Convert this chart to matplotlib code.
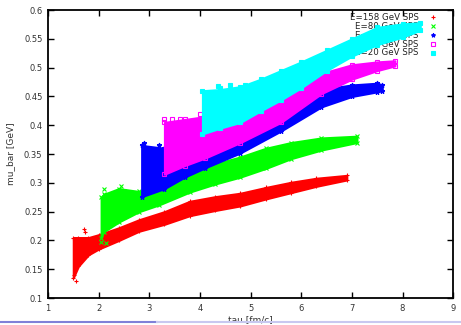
import matplotlib.pyplot as plt
from matplotlib.lines import Line2D

# band edges (lower / upper mu_bar) for each beam energy
tau_158 = [1.5, 1.6, 1.8, 2.0, 2.4, 2.8, 3.3, 3.8, 4.3, 4.8, 5.3, 5.8, 6.3, 6.9]
lo_158 = [0.135, 0.155, 0.175, 0.185, 0.200, 0.216, 0.228, 0.243, 0.252, 0.260, 0.272, 0.283, 0.294, 0.305]
hi_158 = [0.205, 0.205, 0.205, 0.210, 0.222, 0.236, 0.250, 0.268, 0.276, 0.282, 0.292, 0.301, 0.308, 0.313]

tau_80 = [2.05, 2.1, 2.4, 2.8, 3.2, 3.8, 4.3, 4.8, 5.3, 5.8, 6.4, 7.1]
lo_80 = [0.205, 0.215, 0.232, 0.250, 0.262, 0.284, 0.298, 0.310, 0.325, 0.342, 0.357, 0.370]
hi_80 = [0.275, 0.280, 0.290, 0.285, 0.292, 0.322, 0.333, 0.345, 0.360, 0.370, 0.378, 0.381]

tau_40 = [2.85, 3.3, 3.7, 4.1, 4.8, 5.6, 6.4, 7.0, 7.5, 7.6]
lo_40 = [0.276, 0.290, 0.310, 0.326, 0.352, 0.390, 0.432, 0.450, 0.458, 0.460]
hi_40 = [0.365, 0.360, 0.370, 0.385, 0.405, 0.430, 0.462, 0.470, 0.473, 0.470]

tau_30 = [3.3, 3.7, 4.1, 4.8, 5.6, 6.4, 7.0, 7.5, 7.85]
lo_30 = [0.315, 0.330, 0.343, 0.370, 0.405, 0.455, 0.480, 0.495, 0.503]
hi_30 = [0.405, 0.410, 0.415, 0.430, 0.450, 0.490, 0.505, 0.510, 0.512]

tau_20 = [4.05, 4.4, 4.8, 5.2, 5.6, 6.0, 6.5, 7.0, 7.5, 8.0, 8.35]
lo_20 = [0.385, 0.395, 0.405, 0.425, 0.444, 0.465, 0.495, 0.520, 0.540, 0.553, 0.565]
hi_20 = [0.460, 0.462, 0.467, 0.480, 0.495, 0.510, 0.530, 0.550, 0.570, 0.576, 0.578]

# scattered points sticking out of the bands
out_158_x = [1.72, 1.73, 1.52, 1.55]
out_158_y = [0.220, 0.214, 0.140, 0.130]
out_80_x = [2.1, 2.45, 2.5, 2.9, 2.05, 2.15]
out_80_y = [0.290, 0.295, 0.285, 0.285, 0.197, 0.195]
out_40_x = [2.9, 3.2, 3.0]
out_40_y = [0.370, 0.365, 0.355]
out_30_x = [3.3, 3.45, 3.6, 4.0]
out_30_y = [0.410, 0.410, 0.410, 0.420]
out_20_x = [4.35, 4.4, 4.6, 4.9]
out_20_y = [0.468, 0.465, 0.470, 0.470]

labels = ['E=158 GeV SPS', 'E=80 GeV SPS', 'E=40 GeV SPS', 'E=30 GeV SPS', 'E=20 GeV SPS']
colors = ['#ff0000', '#00ff00', '#0000ff', '#ff00ff', '#00ffff']
markers = ['+', 'x', '*', 's', 's']
hollow = [False, False, False, True, False]

series = [
    (tau_158, lo_158, hi_158, out_158_x, out_158_y),
    (tau_80, lo_80, hi_80, out_80_x, out_80_y),
    (tau_40, lo_40, hi_40, out_40_x, out_40_y),
    (tau_30, lo_30, hi_30, out_30_x, out_30_y),
    (tau_20, lo_20, hi_20, out_20_x, out_20_y),
]

fig = plt.figure(figsize=(4.61, 3.25), dpi=100)
ax = fig.add_axes([0.104, 0.083, 0.879, 0.886])

for (t, lo, hi, ox, oy), c, m, h in zip(series, colors, markers, hollow):
    ax.fill_between(t, lo, hi, color=c, lw=1.5, edgecolor=c, zorder=2)
    mk = dict(ls='none', marker=m, ms=3.5, color=c, mfc='none' if h else c,
              mew=0.8, zorder=2)
    ax.plot(t, lo, **mk)
    ax.plot(t, hi, **mk)
    ax.plot(ox, oy, **mk)

ax.set_xlim(1, 9)
ax.set_ylim(0.1, 0.6)
ax.set_xticks(range(1, 10))
ax.set_yticks([0.1 + 0.05 * i for i in range(11)])
ax.set_yticklabels(['0.1', '0.15', '0.2', '0.25', '0.3', '0.35', '0.4',
                    '0.45', '0.5', '0.55', '0.6'])
ax.tick_params(direction='in', length=4, width=1, top=True, right=True,
               labelsize=6, labelcolor='#333333', color='black', pad=4)
for s in ax.spines.values():
    s.set_linewidth(1.3)
    s.set_zorder(5)

ax.set_xlabel('tau [fm/c]', fontsize=6.5, color='#333333', labelpad=2)
ax.set_ylabel('mu_bar [GeV]', fontsize=6.5, color='#333333', labelpad=6)

# legend: right-aligned text with marker on the right, under the data
for i, (lab, c, m, h) in enumerate(zip(labels, colors, markers, hollow)):
    y = 0.975 - i * 0.031
    ax.text(0.915, y, lab, transform=ax.transAxes, ha='right', va='center',
            fontsize=6.2, color='#222222', zorder=1)
    ax.plot([0.951], [y], transform=ax.transAxes, marker=m, ms=3,
            color=c, mfc='none' if h else c, mew=0.8, clip_on=False, zorder=3)

# thin bar along the bottom edge
fig.add_artist(Line2D([0, 0.34], [0.008, 0.008], color='#8080d8', lw=1.5))
fig.add_artist(Line2D([0.34, 1], [0.008, 0.008], color='#c8c8f0', lw=1.5))

fig.savefig('out.png', dpi=100)
